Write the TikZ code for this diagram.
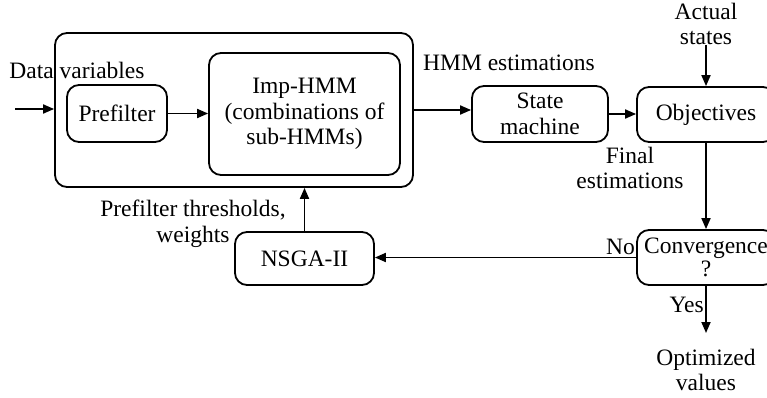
\documentclass[tikz,border=0pt]{standalone}
\usepackage{fontspec}
\setmainfont{Liberation Serif}
\newfontfamily\diagfont{Liberation Serif}
\usetikzlibrary{arrows.meta}
\begin{document}
\begin{tikzpicture}[x=1pt,y=-1pt,
  every node/.style={font=\diagfont\fontsize{23.5}{25.5}\selectfont, align=center},
  blk/.style={draw, line width=1.8pt, rounded corners=12pt, inner sep=0pt},
  lbl/.style={inner sep=0pt},
  conn/.style={line width=1.8pt, -{Triangle[length=11pt,width=9pt]}}
]
\useasboundingbox (0,0) rectangle (767,398);

% processing blocks
\node[blk, minimum width=358, minimum height=154] (outer) at (234,110) {};
\node[blk, minimum width=100, minimum height=57] (pre) at (117,113.5) {Prefilter};
\node[blk, minimum width=191, minimum height=122] (imp) at (304.5,114) {Imp-HMM\\(combinations of\\sub-HMMs)};
\node[blk, minimum width=136, minimum height=56] (sm) at (540,114) {State\\machine};
\node[blk, minimum width=138, minimum height=55] (obj) at (706,114.5) {Objectives};
\node[blk, minimum width=138, minimum height=55, font=\diagfont\fontsize{23.5}{23}\selectfont] (conv) at (706,257.5) {Convergence\\?};
\node[blk, minimum width=139, minimum height=53] (ga) at (304.5,258.5) {NSGA-II};

% labels
\node[lbl] (dv) at (77,70) {Data variables};
\node[lbl] (hmme) at (509,63) {HMM estimations};
\node[lbl] (act) at (706,24) {Actual\\states};
\node[lbl] (fin) at (630,168) {Final\\estimations};
\node[lbl] (thr) at (193,224) {Prefilter thresholds,\\weights};
\node[lbl, anchor=east] (no) at (635,247) {No};
\node[lbl, anchor=east] (yes) at (704,305) {Yes};
\node[lbl] (opt) at (706,370) {Optimized\\values};

% free ends
\coordinate (in) at (15,109);
\coordinate (actend) at (706,45);
\coordinate (outend) at (706,333);

% connectors
\draw[conn] (in) -- (in -| outer.west);
\draw[conn] (pre.east) -- (pre.east -| imp.west);
\draw[conn] (outer.east) -- (outer.east -| sm.west);
\draw[conn] (sm.east) -- (sm.east -| obj.west);
\draw[conn] (actend) -- (obj.north);
\draw[conn] (obj.south) -- (conv.north);
\draw[conn] (conv.west) -- (conv.west -| ga.east);
\draw[conn] (ga.north) -- (ga.north |- outer.south);
\draw[conn] (conv.south) -- (outend);
\end{tikzpicture}
\end{document}
